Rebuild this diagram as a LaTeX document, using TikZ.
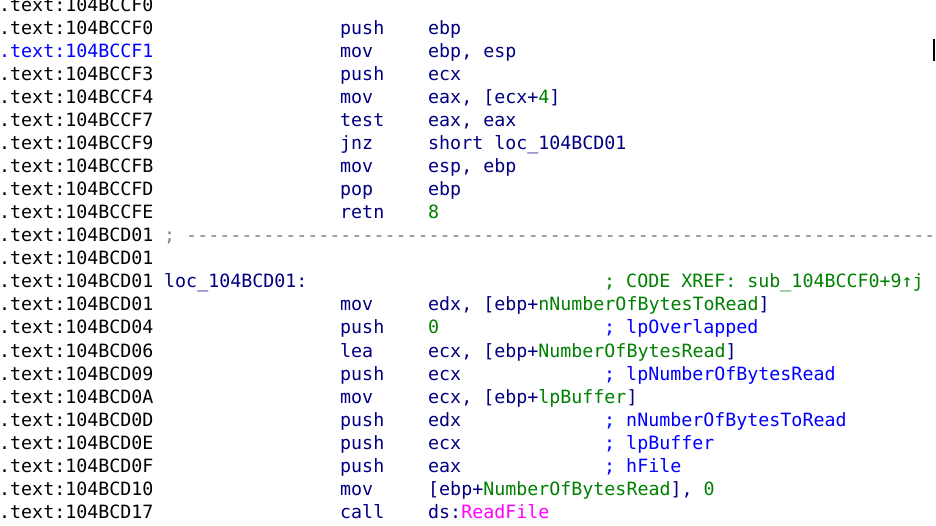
\documentclass[tikz,border=0pt]{standalone}
\usepackage{fontspec}
\setmonofont{DejaVu Sans Mono}
\definecolor{idanavy}{RGB}{0,0,128}
\definecolor{idablue}{RGB}{0,0,255}
\definecolor{idagreen}{RGB}{0,128,0}
\definecolor{idapink}{RGB}{255,0,255}
\definecolor{idagray}{RGB}{128,128,128}
\newcommand{\nm}[1]{\textcolor{idagreen}{#1}}
\begin{document}
\begin{tikzpicture}[x=1pt, y=-1pt,
    every node/.style={inner sep=0pt, anchor=base west, font=\ttfamily\fontsize{18.3}{23}\selectfont},
    addr/.style={text=black},
    ins/.style={text=idanavy},
    cmt/.style={text=idablue}]
    \useasboundingbox (0,0) rectangle (936,526);

    % Addresses
    \node[addr] at (-1, 12) (a0) {.text:104BCCF0};
    \node[addr] at (-1, 35) (a1) {.text:104BCCF0};
    \node[text=idablue] at (-1, 58) (a2) {.text:104BCCF1};
    \node[addr] at (-1, 81) (a3) {.text:104BCCF3};
    \node[addr] at (-1, 104) (a4) {.text:104BCCF4};
    \node[addr] at (-1, 127) (a5) {.text:104BCCF7};
    \node[addr] at (-1, 150) (a6) {.text:104BCCF9};
    \node[addr] at (-1, 173) (a7) {.text:104BCCFB};
    \node[addr] at (-1, 196) (a8) {.text:104BCCFD};
    \node[addr] at (-1, 219) (a9) {.text:104BCCFE};
    \node[addr] at (-1, 242) (a10) {.text:104BCD01};
    \node[addr] at (-1, 265) (a11) {.text:104BCD01};
    \node[addr] at (-1, 288) (a12) {.text:104BCD01};
    \node[addr] at (-1, 311) (a13) {.text:104BCD01};
    \node[addr] at (-1, 334) (a14) {.text:104BCD04};
    \node[addr] at (-1, 357) (a15) {.text:104BCD06};
    \node[addr] at (-1, 380) (a16) {.text:104BCD09};
    \node[addr] at (-1, 403) (a17) {.text:104BCD0A};
    \node[addr] at (-1, 426) (a18) {.text:104BCD0D};
    \node[addr] at (-1, 449) (a19) {.text:104BCD0E};
    \node[addr] at (-1, 472) (a20) {.text:104BCD0F};
    \node[addr] at (-1, 495) (a21) {.text:104BCD10};
    \node[addr] at (-1, 518) (a22) {.text:104BCD17};

    % Mnemonics
    \node[ins] at (340, 35) (m1) {push};
    \node[ins] at (340, 58) (m2) {mov};
    \node[ins] at (340, 81) (m3) {push};
    \node[ins] at (340, 104) (m4) {mov};
    \node[ins] at (340, 127) (m5) {test};
    \node[ins] at (340, 150) (m6) {jnz};
    \node[ins] at (340, 173) (m7) {mov};
    \node[ins] at (340, 196) (m8) {pop};
    \node[ins] at (340, 219) (m9) {retn};
    \node[ins] at (340, 311) (m13) {mov};
    \node[ins] at (340, 334) (m14) {push};
    \node[ins] at (340, 357) (m15) {lea};
    \node[ins] at (340, 380) (m16) {push};
    \node[ins] at (340, 403) (m17) {mov};
    \node[ins] at (340, 426) (m18) {push};
    \node[ins] at (340, 449) (m19) {push};
    \node[ins] at (340, 472) (m20) {push};
    \node[ins] at (340, 495) (m21) {mov};
    \node[ins] at (340, 518) (m22) {call};

    % Operands
    \node[ins] at (428, 35) (o1) {ebp};
    \node[ins] at (428, 58) (o2) {ebp, esp};
    \node[ins] at (428, 81) (o3) {ecx};
    \node[ins] at (428, 104) (o4) {eax, [ecx+\nm{4}]};
    \node[ins] at (428, 127) (o5) {eax, eax};
    \node[ins] at (428, 150) (o6) {short loc\_104BCD01};
    \node[ins] at (428, 173) (o7) {esp, ebp};
    \node[ins] at (428, 196) (o8) {ebp};
    \node[ins] at (428, 219) (o9) {\nm{8}};
    \node[ins] at (428, 311) (o13) {edx, [ebp+\nm{nNumberOfBytesToRead}]};
    \node[ins] at (428, 334) (o14) {\nm{0}};
    \node[ins] at (428, 357) (o15) {ecx, [ebp+\nm{NumberOfBytesRead}]};
    \node[ins] at (428, 380) (o16) {ecx};
    \node[ins] at (428, 403) (o17) {ecx, [ebp+\nm{lpBuffer}]};
    \node[ins] at (428, 426) (o18) {edx};
    \node[ins] at (428, 449) (o19) {ecx};
    \node[ins] at (428, 472) (o20) {eax};
    \node[ins] at (428, 495) (o21) {[ebp+\nm{NumberOfBytesRead}], \nm{0}};
    \node[ins] at (428, 518) (o22) {ds:\textcolor{idapink}{ReadFile}};

    % Label, separator and comments
    \node[ins] at (164, 288) (lab) {loc\_104BCD01:};
    \node[text=idagray] at (164, 242) (sep) {; --------------------------------------------------------------------};
    \node[text=idagreen] at (604, 288) (xref) {; CODE XREF: sub\_104BCCF0+9↑j};
    \node[cmt] at (604, 334) (c14) {; lpOverlapped};
    \node[cmt] at (604, 380) (c16) {; lpNumberOfBytesRead};
    \node[cmt] at (604, 426) (c18) {; nNumberOfBytesToRead};
    \node[cmt] at (604, 449) (c19) {; lpBuffer};
    \node[cmt] at (604, 472) (c20) {; hFile};

    % Cursor
    \draw[line width=2] (933.5, 39) -- (933.5, 61);
\end{tikzpicture}
\end{document}
